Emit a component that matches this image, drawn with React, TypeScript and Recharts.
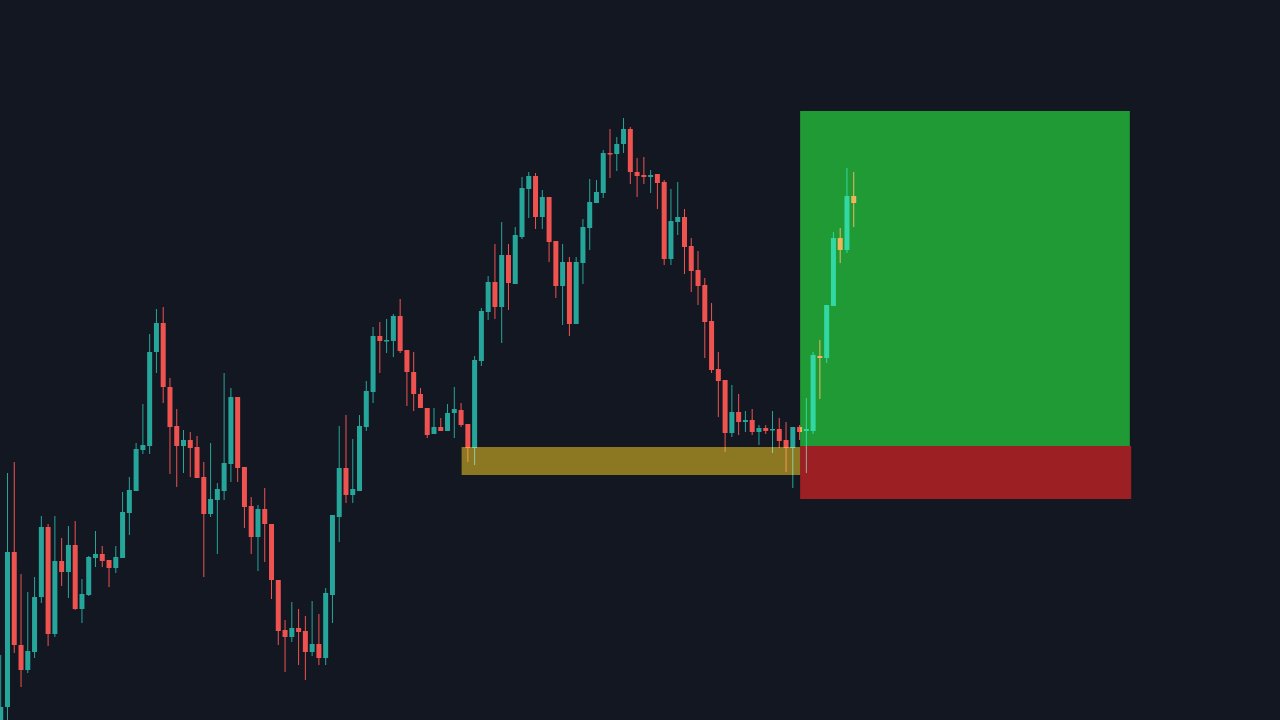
import React from 'react';
import { ComposedChart, Bar, XAxis, YAxis, ReferenceArea } from 'recharts';

// OHLC, one entry per candle (left to right)
const opens = [
  -5, 13, 168, 75, 50, 68, 123, 193, 86, 159, 148, 175, 111, 125, 162, 166, 160, 152, 162, 207,
  229, 270, 274, 368, 397, 333, 294, 274, 280, 273, 243, 206, 220, 229, 256, 323, 253, 214, 183, 211,
  196, 140, 90, 83, 92, 89, 68, 76, 62, 125, 203, 252, 225, 229, 293, 328, 384, 379, 379, 404,
  370, 348, 326, 312, 286, 293, 289, 307, 310, 296, 272, 359, 408, 438, 413, 465, 436, 483, 531, 544,
  503, 523, 479, 434, 458, 396, 457, 492, 517, 527, 567, 566, 576, 591, 548, 545, 543, 546, 538, 461,
  498, 503, 474, 450, 435, 399, 351, 340, 287, 308, 298, 300, 288, 292, 290, 291, 280, 272, 293, 289,
  289, 364, 362, 414, 482, 470, 524,
];
const highs = [
  65, 247, 258, 146, 128, 143, 204, 196, 204, 182, 194, 199, 141, 164, 189, 174, 160, 174, 228, 243,
  277, 316, 386, 411, 413, 342, 311, 290, 288, 284, 258, 277, 237, 347, 332, 323, 253, 223, 215, 232,
  196, 140, 100, 118, 111, 104, 119, 106, 132, 205, 294, 305, 281, 305, 339, 393, 398, 401, 406, 421,
  370, 368, 332, 312, 312, 302, 316, 333, 317, 296, 364, 412, 444, 476, 498, 476, 493, 543, 548, 547,
  530, 523, 479, 476, 463, 463, 501, 541, 540, 570, 591, 583, 602, 593, 562, 563, 550, 546, 540, 531,
  538, 511, 482, 469, 442, 417, 368, 340, 335, 326, 309, 311, 295, 295, 309, 302, 298, 293, 295, 322,
  368, 380, 415, 488, 492, 552, 548,
];
const lows = [
  -10, -5, 67, 33, 47, 62, 117, 74, 83, 134, 122, 110, 97, 124, 153, 153, 133, 147, 162, 185,
  229, 266, 266, 347, 317, 246, 233, 247, 243, 242, 143, 203, 166, 220, 238, 238, 192, 166, 149, 158,
  121, 75, 48, 78, 55, 40, 64, 55, 55, 97, 178, 217, 217, 229, 289, 317, 347, 367, 363, 367,
  314, 309, 312, 282, 286, 289, 289, 282, 293, 258, 255, 354, 400, 401, 377, 410, 436, 481, 502, 491,
  491, 458, 422, 395, 384, 396, 436, 470, 517, 522, 542, 549, 567, 536, 523, 536, 527, 511, 455, 455,
  485, 446, 428, 415, 362, 347, 303, 268, 283, 285, 288, 285, 275, 286, 267, 272, 248, 232, 280, 247,
  286, 321, 357, 414, 457, 467, 493,
];
const closes = [
  13, 168, 75, 50, 69, 123, 193, 86, 159, 148, 175, 111, 126, 163, 166, 159, 152, 163, 208, 230,
  271, 275, 368, 397, 333, 293, 274, 280, 272, 242, 206, 221, 231, 257, 323, 252, 213, 183, 211, 196,
  140, 89, 83, 92, 88, 68, 76, 62, 127, 205, 252, 225, 231, 294, 329, 384, 379, 380, 404, 369,
  348, 326, 312, 285, 293, 289, 307, 311, 295, 272, 360, 409, 438, 413, 465, 437, 485, 532, 544, 503,
  523, 478, 434, 458, 396, 458, 493, 518, 528, 567, 566, 576, 591, 548, 544, 543, 545, 537, 461, 499,
  503, 473, 449, 434, 398, 350, 339, 287, 308, 298, 300, 288, 292, 289, 291, 279, 272, 293, 288, 291,
  365, 362, 415, 482, 470, 524, 517,
];

// trade drawing levels (same price units as the candles)
const zoneHigh = 273;
const zoneLow = 245;
const zoneFrom = 68.1;
const targetPrice = 609;
const entryPrice = 274;
const stopPrice = 221;
const positionFrom = 118.1;
const targetTo = 166.8;
const stopTo = 167;

const UP = '#26a69a';
const DOWN = '#ef5350';
const BG = '#131722';

const candles = opens.map((o, i) => ({
  i,
  open: o,
  high: highs[i],
  low: lows[i],
  close: closes[i],
  range: [lows[i], highs[i]],
}));

function Candle(props: any) {
  const { x, y, width, height, payload } = props;
  const { open, close, high, low } = payload;
  if (!height || high === low) return null;
  const cx = x + width / 2;
  const ppu = height / (high - low);
  const top = y + (high - Math.max(open, close)) * ppu;
  const bottom = y + (high - Math.min(open, close)) * ppu;
  const color = close >= open ? UP : DOWN;
  return (
    <g>
      <line x1={cx} x2={cx} y1={y} y2={y + height} stroke={color} strokeWidth={1} />
      <rect x={cx - 2.5} y={top} width={5} height={Math.max(bottom - top, 1.5)} fill={color} />
    </g>
  );
}

// boxes are screened over the candles, like the transparent drawing tools
const screenBox = (fill: string) => (p: any) => (
  <rect x={p.x} y={p.y} width={p.width} height={p.height} fill={fill} style={{ mixBlendMode: 'screen' }} />
);

export default function App() {
  return (
    <div style={{ position: 'absolute', left: 0, top: 0, width: 1280, height: 720, background: BG, overflow: 'hidden' }}>
      <ComposedChart width={1280} height={720} data={candles} margin={{ top: 0, right: 0, bottom: 0, left: 0 }}>
        <XAxis type="number" dataKey="i" domain={[-0.0886, 188.9808]} hide allowDataOverflow />
        <YAxis type="number" domain={[0, 720]} hide allowDataOverflow />
        <Bar dataKey="range" barSize={5} isAnimationActive={false} shape={(p: any) => <Candle {...p} />} />
        <ReferenceArea x1={zoneFrom} x2={positionFrom} y1={zoneLow} y2={zoneHigh} zIndex={1000} shape={screenBox('#836901')} />
        <ReferenceArea x1={positionFrom} x2={targetTo} y1={entryPrice} y2={targetPrice} zIndex={1000} shape={screenBox('#0e9016')} />
        <ReferenceArea x1={positionFrom} x2={stopTo} y1={stopPrice} y2={entryPrice} zIndex={1000} shape={screenBox('#940902')} />
      </ComposedChart>
    </div>
  );
}
